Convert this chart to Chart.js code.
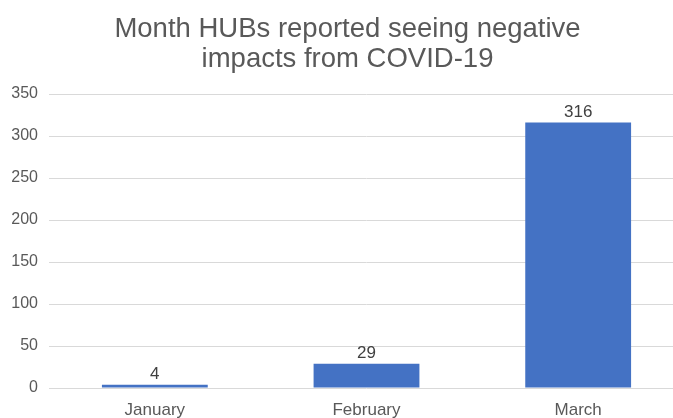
<!DOCTYPE html>
<html>
<head>
<meta charset="utf-8">
<script src="https://cdn.jsdelivr.net/npm/chart.js@4/dist/chart.umd.min.js"></script>
<style>
  html, body { margin: 0; padding: 0; background: #fff; overflow: hidden; }
  #wrap { width: 673px; height: 418px; overflow: hidden; }
</style>
</head>
<body>
<div id="wrap"><canvas id="chart" width="684" height="418"></canvas></div>
<script>
// Chart data
const months = ['January', 'February', 'March']
const hubCounts = [4, 29, 316]
const titleLines = ['Month HUBs reported seeing negative', 'impacts from COVID-19']

const fontFamily = "'Liberation Sans', Arial, sans-serif"

// Title drawn by hand so it can sit slightly right of the canvas centre
const titlePlugin = {
    id: 'titlePlugin',
    afterDraw(chart) {
        const ctx = chart.ctx
        ctx.save()
        ctx.font = '27.5px ' + fontFamily
        ctx.fillStyle = '#595959'
        ctx.textAlign = 'center'
        ctx.textBaseline = 'alphabetic'
        titleLines.forEach((line, i) => {
            ctx.fillText(line, 347.5, 36.5 + i * 30.5)
        })
        ctx.restore()
    }
}

// Draw the value above each bar
const valueLabels = {
    id: 'valueLabels',
    afterDatasetsDraw(chart) {
        const ctx = chart.ctx
        const meta = chart.getDatasetMeta(0)
        ctx.save()
        ctx.font = '17px ' + fontFamily
        ctx.fillStyle = '#404040'
        ctx.textAlign = 'center'
        ctx.textBaseline = 'bottom'
        meta.data.forEach((bar, i) => {
            ctx.fillText(String(hubCounts[i]), bar.x, bar.y - 2)
        })
        ctx.restore()
    }
}

new Chart(document.getElementById('chart').getContext('2d'), {
    type: 'bar',
    data: {
        labels: months,
        datasets: [{
            data: hubCounts,
            backgroundColor: '#4472C4',
            categoryPercentage: 1,
            barPercentage: 0.5
        }]
    },
    options: {
        responsive: false,
        animation: false,
        layout: { padding: { top: 94 } },
        plugins: {
            legend: { display: false },
            tooltip: { enabled: false },
            title: { display: false }
        },
        scales: {
            x: {
                grid: { display: false },
                border: { display: false },
                ticks: {
                    color: '#595959',
                    font: { family: fontFamily, size: 17 },
                    padding: 4
                },
                afterFit(scale) { scale.height = 30 }
            },
            y: {
                min: 0,
                max: 350,
                ticks: {
                    stepSize: 50,
                    color: '#595959',
                    font: { family: fontFamily, size: 16 },
                    padding: 11
                },
                grid: { color: '#d9d9d9', lineWidth: 1, drawTicks: false },
                border: { display: false },
                afterFit(scale) { scale.width = 49 }
            }
        }
    },
    plugins: [valueLabels, titlePlugin]
})
</script>
</body>
</html>
